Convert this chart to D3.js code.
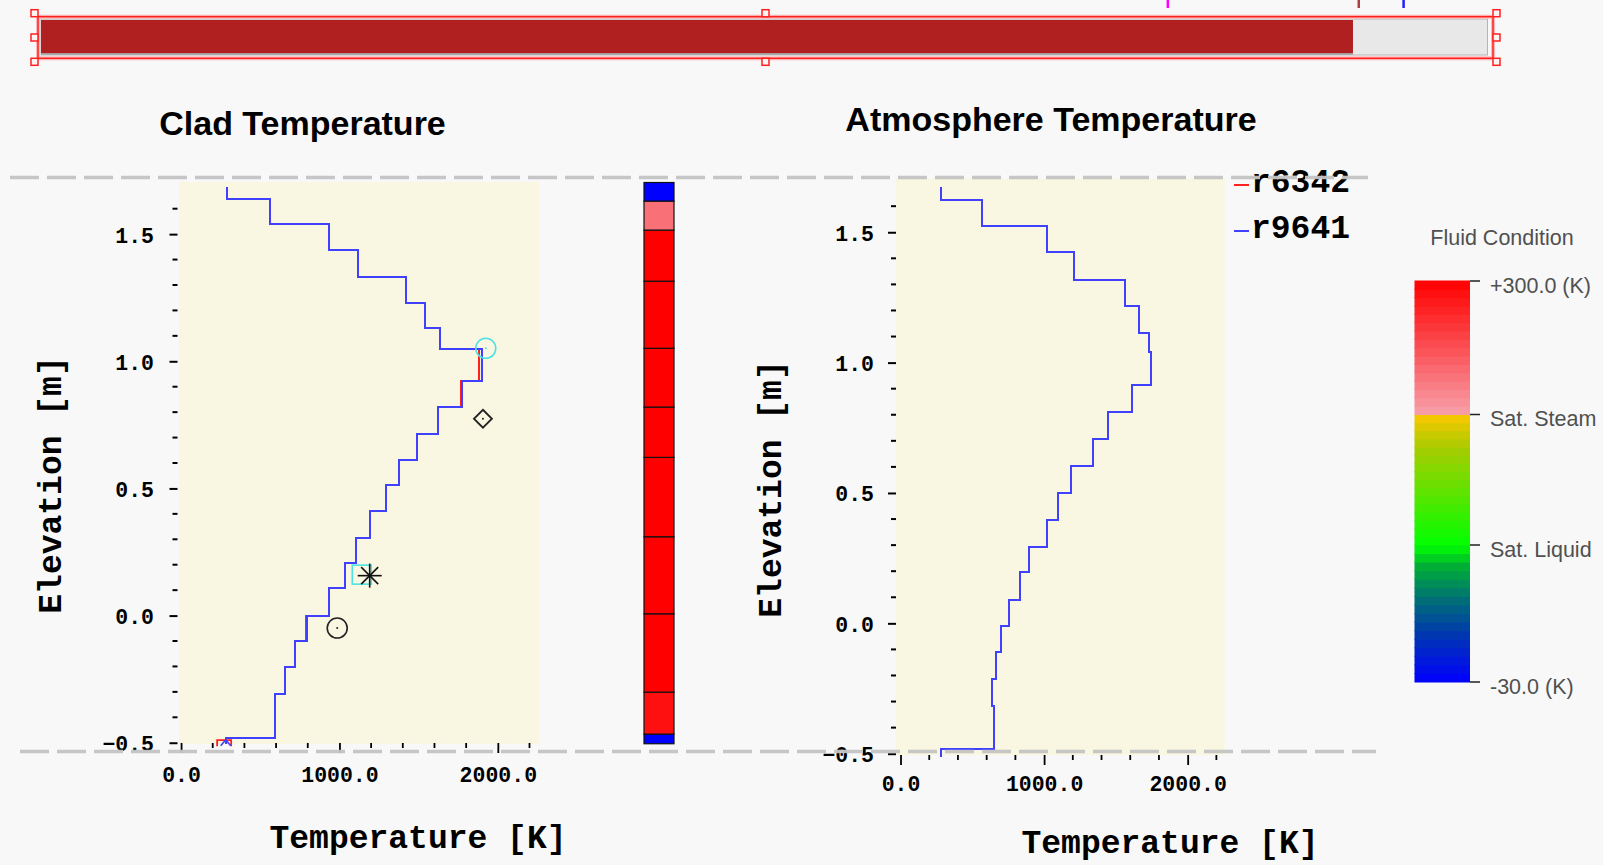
<!DOCTYPE html>
<html>
<head>
<meta charset="utf-8">
<script src="https://cdn.jsdelivr.net/npm/d3@7/dist/d3.min.js"></script>
<style>
	body { margin: 0; background: #f8f8f8; overflow: hidden; }
	svg { display: block; }
	.mono { font-family: "Liberation Mono", "DejaVu Sans Mono", monospace; font-weight: bold; }
	.sans { font-family: "Liberation Sans", Arial, sans-serif; }
</style>
</head>
<body>
<script>
'use strict';

// Values (elevation in m, temperature in K)
const cladEdges  = [-0.500, -0.478, -0.304, -0.200, -0.097, 0.004, 0.111, 0.211, 0.310, 0.416, 0.518, 0.617, 0.717, 0.825, 0.927, 1.051, 1.133, 1.233, 1.334, 1.440, 1.543, 1.641, 1.690];
const cladR9641  = [278, 587, 652, 715, 792, 927, 1026, 1101, 1186, 1286, 1371, 1486, 1619, 1770, 1894, 1626, 1533, 1416, 1112, 927, 553, 282];
const cladR6342  = [278, 587, 652, 715, 782, 927, 1026, 1101, 1186, 1286, 1371, 1486, 1619, 1762, 1874, 1626, 1533, 1416, 1112, 927, 553, 282];

const atmoEdges  = [-0.510, -0.478, -0.314, -0.210, -0.106, -0.008, 0.095, 0.200, 0.298, 0.401, 0.505, 0.608, 0.711, 0.813, 0.917, 1.044, 1.117, 1.221, 1.320, 1.429, 1.527, 1.626, 1.676];
const atmoR9641  = [274, 643, 632, 658, 692, 749, 823, 886, 1013, 1093, 1178, 1331, 1439, 1604, 1735, 1724, 1653, 1556, 1200, 1013, 564, 274];
const atmoR6342  = [274, 643, 632, 658, 692, 749, 823, 886, 1013, 1093, 1178, 1331, 1439, 1604, 1735, 1724, 1653, 1556, 1200, 1013, 564, 274];

// fluid condition per cell: 0 = -30 K, 1 = sat. liquid, 2 = sat. steam, 3 = +300 K
const fluidEdges = [-0.504, -0.466, -0.301, 0.007, 0.310, 0.622, 0.820, 1.051, 1.315, 1.516, 1.630, 1.703];
const fluidState = [0, 2.9, 3, 3, 3, 3, 3, 3, 3, 2.3, 0];

const markerKinds = ['ring', 'diamond', 'square', 'star', 'dotRing', 'bracket', 'tri'];
const markerTemps = [1924, 1906, 1141, 1191, 986, 272, 282];
const markerElevs = [1.051, 0.774, 0.161, 0.157, -0.049, -0.494, -0.496];

const seriesNames = ['r6342', 'r9641'];
const elevTicks   = [-0.5, 0.0, 0.5, 1.0, 1.5];
const elevMinor   = [-0.4, -0.3, -0.2, -0.1, 0.1, 0.2, 0.3, 0.4, 0.6, 0.7, 0.8, 0.9, 1.1, 1.2, 1.3, 1.4, 1.6];
const tempTicks   = [0, 1000, 2000];
const tempMinor   = [200, 400, 600, 800, 1200, 1400, 1600, 1800, 2200];
const fluidLevels = [0, 1, 2, 3];
const fluidLabels = ['-30.0 (K)', 'Sat. Liquid', 'Sat. Steam', '+300.0 (K)'];

const progress  = 0.907;
const timeMarks = [0.779, 0.911, 0.942];

// Layout
const DIMENSIONS = {
	'canvas': { 'width': 1603, 'height': 865 },
	'elev'  : [-0.505, 1.705],
	'clad'  : { 'left': 179, 'right': 539, 'top': 182, 'bottom': 744, 'tMin': -13, 'tMax': 2260,
				'axisX': 177.5, 'axisY': 743, 'padY': 15.5, 'labelY': 38.5,
				'title': [302.5, 135], 'xTitle': [418, 848], 'yTitle': [61, 485] },
	'atmo'  : { 'left': 895.5, 'right': 1224.7, 'top': 178.8, 'bottom': 755, 'tMin': -35, 'tMax': 2258,
				'axisX': 896, 'axisY': 755, 'padY': 14, 'labelY': 36,
				'title': [1051, 131], 'xTitle': [1170, 853], 'yTitle': [781, 489] }
};
const LINE_COLORS = { 'r6342': '#ff2020', 'r9641': '#4040ff' };
const CYAN = '#4de3e3';

let svg = d3.select('body').append('svg')
	.attr('width', DIMENSIONS.canvas.width)
	.attr('height', DIMENSIONS.canvas.height);

/* Top time bar */
let barX = d3.scaleLinear().domain([0, 1]).range([41, 1487.5]);
let bar = svg.append('g');
bar.append('rect').attr('x', barX(0)).attr('y', 19).attr('width', barX(1) - barX(0)).attr('height', 36)
	.attr('fill', '#e8e8e8').attr('stroke', '#b4b4b4').attr('stroke-width', 1);
bar.append('rect').attr('x', barX(0)).attr('y', 20).attr('width', barX(progress) - barX(0)).attr('height', 33.5)
	.attr('fill', '#b02020');
bar.append('line').attr('x1', barX(0)).attr('x2', barX(progress)).attr('y1', 54).attr('y2', 54)
	.attr('stroke', '#a0a0a0').attr('stroke-width', 1.5);
let markColors = ['#ff00ff', '#b04040', '#2020ff'];
bar.selectAll('.mark').data(timeMarks).enter().append('line')
	.attr('x1', (d) => barX(d)).attr('x2', (d) => barX(d)).attr('y1', 0).attr('y2', 8)
	.attr('stroke', (d, i) => markColors[i]).attr('stroke-width', 2.5);

// selection frame with handles
let sel = { 'x0': 38, 'x1': 1493, 'y0': 16.7, 'y1': 58.3 };
bar.append('rect').attr('x', sel.x0).attr('y', sel.y0).attr('width', sel.x1 - sel.x0).attr('height', sel.y1 - sel.y0)
	.attr('fill', 'none').attr('stroke', '#ffb8b8').attr('stroke-width', 4);
bar.append('rect').attr('x', sel.x0).attr('y', sel.y0).attr('width', sel.x1 - sel.x0).attr('height', sel.y1 - sel.y0)
	.attr('fill', 'none').attr('stroke', '#ff2020').attr('stroke-width', 1.5);
let handles = [
	[sel.x0 - 7, sel.y0 - 7], [sel.x0 - 7, (sel.y0 + sel.y1) / 2 - 3.5], [sel.x0 - 7, sel.y1],
	[(sel.x0 + sel.x1) / 2 - 3.5, sel.y0 - 7], [(sel.x0 + sel.x1) / 2 - 3.5, sel.y1],
	[sel.x1, sel.y0 - 7], [sel.x1, (sel.y0 + sel.y1) / 2 - 3.5], [sel.x1, sel.y1]
];
bar.selectAll('.handle').data(handles).enter().append('rect')
	.attr('x', (d) => d[0]).attr('y', (d) => d[1]).attr('width', 7).attr('height', 7)
	.attr('fill', '#fff4f4').attr('stroke', '#ff2020').attr('stroke-width', 1.5);

/* Panels */
function stepPoints(edges, temps) {
	let pts = [];
	temps.forEach((t, i) => { pts.push([t, edges[i]]); pts.push([t, edges[i + 1]]); });
	return pts;
}

function drawPanel(cfg, titleText, edges, series) {
	let x = d3.scaleLinear().domain([cfg.tMin, cfg.tMax]).range([cfg.left, cfg.right]);
	let y = d3.scaleLinear().domain(DIMENSIONS.elev).range([cfg.bottom, cfg.top]);

	svg.append('rect').attr('x', cfg.left).attr('y', cfg.top)
		.attr('width', cfg.right - cfg.left).attr('height', cfg.bottom - cfg.top)
		.attr('fill', '#f9f7e1');

	svg.append('text').attr('class', 'sans').attr('x', cfg.title[0]).attr('y', cfg.title[1])
		.attr('text-anchor', 'middle').attr('font-size', 34).attr('font-weight', 'bold').text(titleText);

	// y axis
	let yAxis = d3.axisLeft(y).tickValues(elevTicks).tickSize(8).tickPadding(cfg.padY).tickFormat(d3.format('.1f'));
	let gy = svg.append('g').attr('transform', 'translate(' + cfg.axisX + ',0)').call(yAxis);
	gy.select('.domain').remove();
	gy.selectAll('line').attr('stroke-width', 2);
	gy.attr('font-family', null).attr('font-size', null);
	gy.selectAll('text').attr('class', 'mono').attr('font-size', 21.5).attr('dy', '0.32em')
		.attr('transform', 'translate(0,1)');
	gy.selectAll('.minor').data(elevMinor).enter().append('line')
		.attr('x1', -5).attr('x2', 0).attr('y1', (d) => y(d)).attr('y2', (d) => y(d))
		.attr('stroke', '#000').attr('stroke-width', 2);

	// x axis
	let xAxis = d3.axisBottom(x).tickValues(tempTicks).tickSize(10).tickFormat(d3.format('.1f'));
	let gx = svg.append('g').attr('transform', 'translate(0,' + cfg.axisY + ')').call(xAxis);
	gx.select('.domain').remove();
	gx.selectAll('line').attr('stroke-width', 1.8);
	gx.attr('font-family', null).attr('font-size', null);
	gx.selectAll('text').attr('class', 'mono').attr('font-size', 21.5).attr('dy', null).attr('y', cfg.labelY);
	gx.selectAll('.minor').data(tempMinor).enter().append('line')
		.attr('x1', (d) => x(d)).attr('x2', (d) => x(d)).attr('y1', 0).attr('y2', 5)
		.attr('stroke', '#000').attr('stroke-width', 1.8);

	// axis titles
	svg.append('text').attr('class', 'mono').attr('font-size', 33)
		.attr('x', cfg.xTitle[0]).attr('y', cfg.xTitle[1]).attr('text-anchor', 'middle').text('Temperature [K]');
	svg.append('text').attr('class', 'mono').attr('font-size', 33).attr('text-anchor', 'middle')
		.attr('transform', 'translate(' + cfg.yTitle[0] + ',' + cfg.yTitle[1] + ') rotate(-90)').text('Elevation [m]');

	// step profiles, r6342 under r9641
	let line = d3.line().x((d) => Math.round(x(d[0])) + 0.5).y((d) => Math.round(y(d[1])) + 0.5);
	series.forEach((s) => {
		svg.append('path').attr('d', line(stepPoints(edges, s.values)))
			.attr('fill', 'none').attr('stroke', LINE_COLORS[s.name]).attr('stroke-width', 2)
			.attr('shape-rendering', 'crispEdges');
	});

	return { 'x': x, 'y': y };
}

let clad = drawPanel(DIMENSIONS.clad, 'Clad Temperature', cladEdges,
	[{ 'name': 'r6342', 'values': cladR6342 }, { 'name': 'r9641', 'values': cladR9641 }]);
let atmo = drawPanel(DIMENSIONS.atmo, 'Atmosphere Temperature', atmoEdges,
	[{ 'name': 'r6342', 'values': atmoR6342 }, { 'name': 'r9641', 'values': atmoR9641 }]);

// point markers on the clad panel
let markers = svg.append('g');
markerKinds.forEach((kind, i) => {
	let g = markers.append('g').attr('transform', 'translate(' + clad.x(markerTemps[i]) + ',' + clad.y(markerElevs[i]) + ')');
	if (kind === 'ring' || kind === 'dotRing') {
		let c = kind === 'ring' ? CYAN : '#222';
		g.append('circle').attr('r', 10).attr('fill', 'none').attr('stroke', c).attr('stroke-width', 1.6);
		g.append('circle').attr('r', 1).attr('fill', c);
	} else if (kind === 'diamond') {
		g.append('path').attr('d', 'M0,-9L9,0L0,9L-9,0Z').attr('fill', 'none').attr('stroke', '#222').attr('stroke-width', 1.8);
		g.append('circle').attr('r', 1).attr('fill', '#222');
	} else if (kind === 'square') {
		g.append('rect').attr('x', -9.5).attr('y', -9.5).attr('width', 19).attr('height', 19)
			.attr('fill', 'none').attr('stroke', CYAN).attr('stroke-width', 1.6);
	} else if (kind === 'star') {
		[0, 45, 90, 135].forEach((a) => {
			g.append('line').attr('x1', -12).attr('x2', 12).attr('transform', 'rotate(' + a + ')')
				.attr('stroke', '#111').attr('stroke-width', 1.6);
		});
	} else if (kind === 'bracket') {
		g.append('path').attr('d', 'M-7,5V-1H7V5').attr('fill', 'none').attr('stroke', '#ff2020').attr('stroke-width', 1.8);
	} else if (kind === 'tri') {
		g.append('path').attr('d', 'M-5,4L0,-2L5,4').attr('fill', 'none').attr('stroke', '#4040ff').attr('stroke-width', 1.6);
	}
});

/* Fluid condition scale */
let fluidColor = d3.scaleLinear()
	.domain([0, 0.35, 0.6, 0.85, 1, 1.4, 1.75, 1.999, 2, 3])
	.range(['#0000ff', '#0038b0', '#006e78', '#00b034', '#00ff00', '#5ee400', '#a8cc00', '#fcc800', '#f7a0aa', '#ff0000'])
	.clamp(true);

// channel column beside the clad panel
svg.append('g').selectAll('rect').data(fluidState).enter().append('rect')
	.attr('x', 644).attr('width', 30)
	.attr('y', (d, i) => clad.y(fluidEdges[i + 1]))
	.attr('height', (d, i) => clad.y(fluidEdges[i]) - clad.y(fluidEdges[i + 1]))
	.attr('fill', (d) => fluidColor(d)).attr('stroke', '#111').attr('stroke-width', 1.2);

// colour bar legend
let cbY = d3.scaleLinear().domain(fluidLevels).range([682, 545, 414.5, 281]);
let bands = d3.range(0, 3, 1 / 16);
svg.append('g').selectAll('rect').data(bands).enter().append('rect')
	.attr('x', 1414.5).attr('width', 55.5)
	.attr('y', (d) => cbY(d + 1 / 16) - 0.5)
	.attr('height', (d) => cbY(d) - cbY(d + 1 / 16) + 1)
	.attr('fill', (d) => fluidColor(d + 1 / 32));
svg.append('text').attr('class', 'sans').attr('x', 1502).attr('y', 245).attr('text-anchor', 'middle')
	.attr('font-size', 21.5).attr('fill', '#505050').text('Fluid Condition');
let cbTicks = svg.append('g').selectAll('g').data(fluidLevels).enter().append('g')
	.attr('transform', (d) => 'translate(1470,' + cbY(d) + ')');
cbTicks.append('line').attr('x1', 0).attr('x2', 10).attr('stroke', '#222').attr('stroke-width', 1.5);
cbTicks.append('text').attr('class', 'sans').attr('x', 20).attr('dy', '0.55em')
	.attr('font-size', 21.5).attr('fill', '#505050').text((d, i) => fluidLabels[i]);

/* Legend */
let legend = svg.append('g').attr('transform', 'translate(1234, 0)');
seriesNames.forEach((name, i) => {
	let yy = 192 + i * 46;
	legend.append('line').attr('x1', 0).attr('x2', 15).attr('y1', yy - 7).attr('y2', yy - 7)
		.attr('stroke', LINE_COLORS[name]).attr('stroke-width', 2);
	legend.append('text').attr('class', 'mono').attr('font-size', 33).attr('x', 17).attr('y', yy).text(name);
});

/* Dashed guide lines at the core top and bottom */
[[10, 1368, 177.5], [20, 1376, 751.5]].forEach((l) => {
	svg.append('line').attr('x1', l[0]).attr('x2', l[1]).attr('y1', l[2]).attr('y2', l[2])
		.attr('stroke', '#c4c4c4').attr('stroke-width', 3.5).attr('stroke-dasharray', '29 8').attr('opacity', 0.95);
});
</script>
</body>
</html>
